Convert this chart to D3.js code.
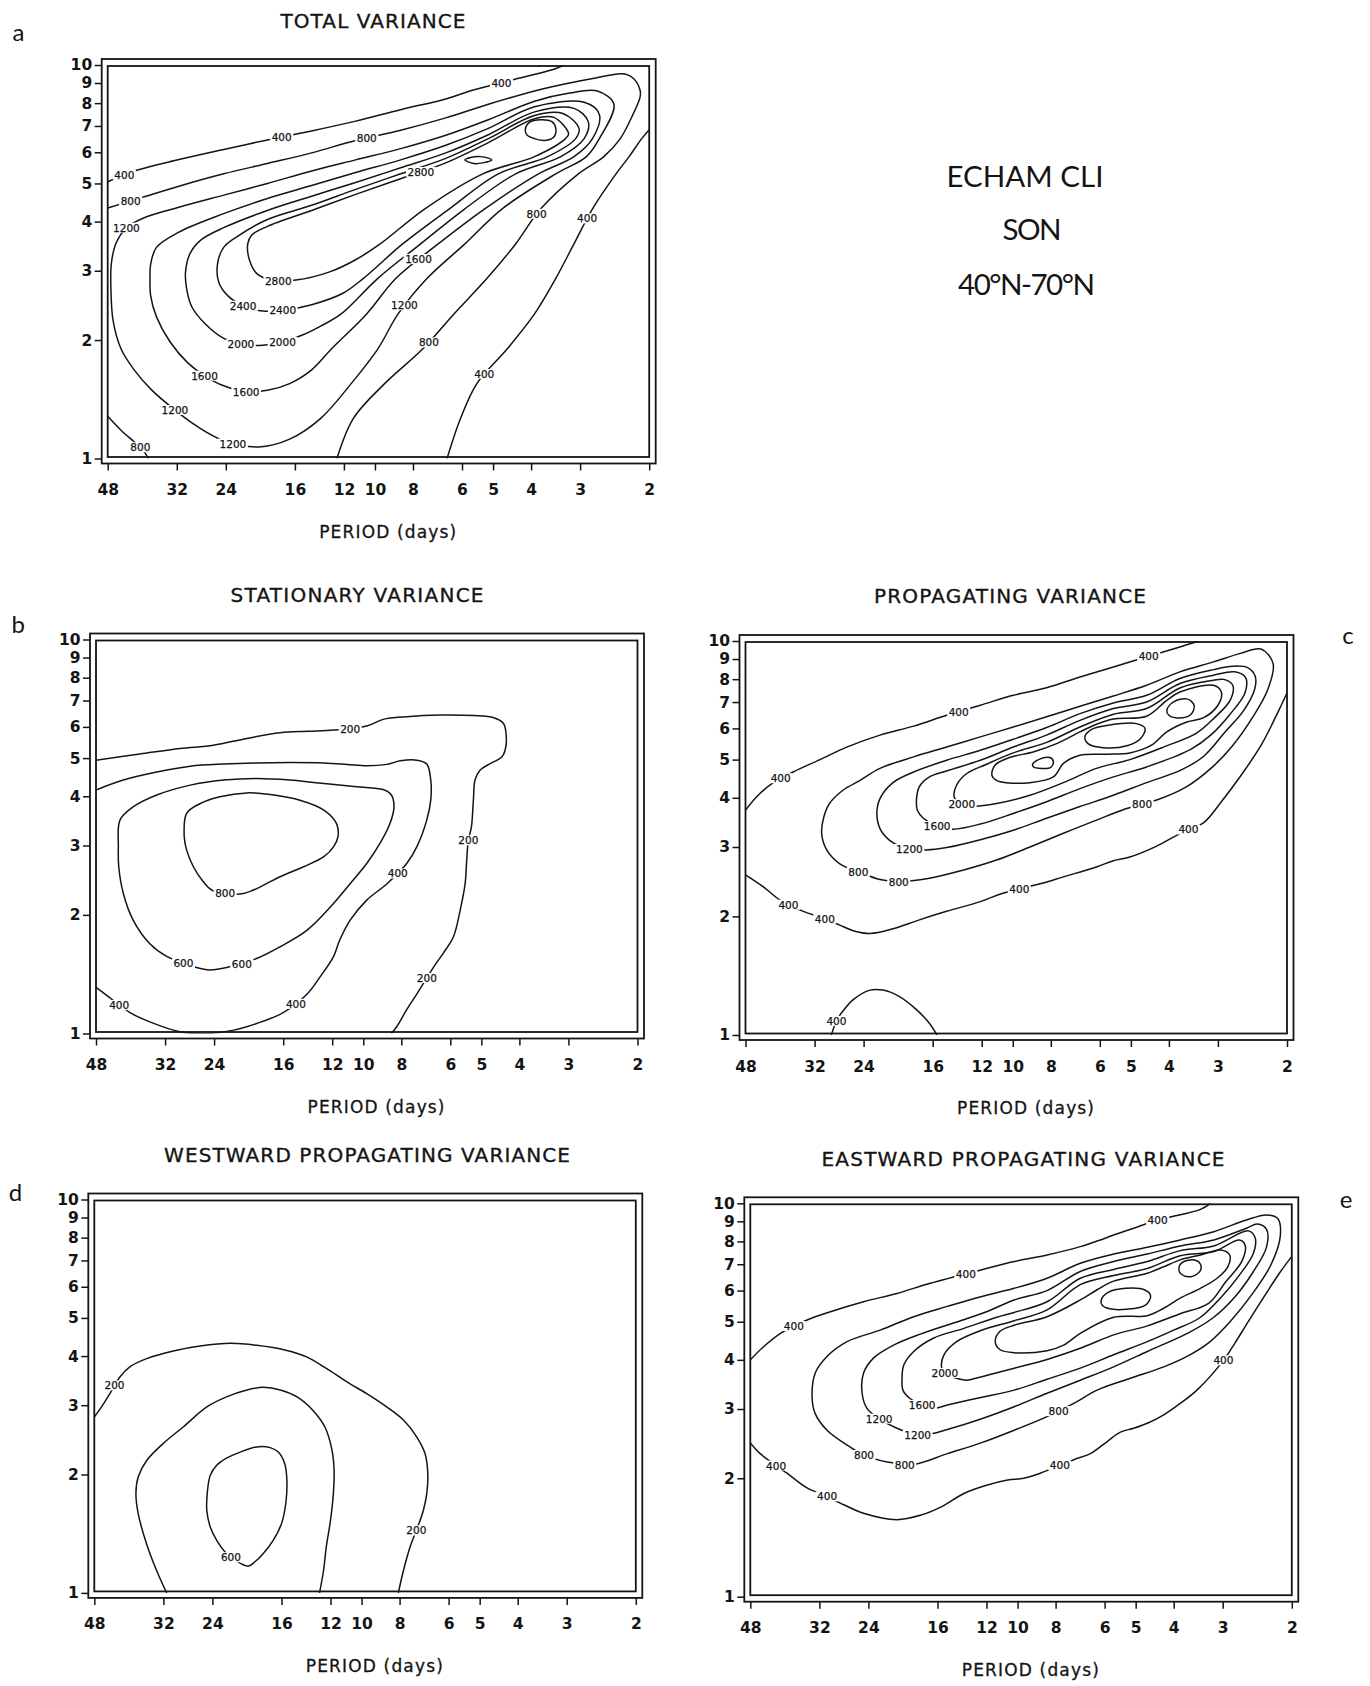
<!DOCTYPE html>
<html><head><meta charset="utf-8">
<script src="https://cdn.jsdelivr.net/npm/d3@7"></script>
<style>body{margin:0;background:#fff}svg{display:block}</style>
</head><body>
<svg id="fig" width="1370" height="1686"></svg>
<script>
// ---------- axis tick values ----------
const periodTicks = [48,32,24,16,12,10,8,6,5,4,3,2];
const waveTicks = [1,2,3,4,5,6,7,8,9,10];

// ---------- panel a : total variance  [period (days), wavenumber] ----------
const aC400u = [[48,5.05],[40.5,5.4],[31.6,5.75],[24.3,6.1],[18.8,6.45],[14.5,6.8],[11.2,7.2],[8.6,7.7],[6.6,8.2],[5.7,8.6],[4.4,9.2],[3.5,9.75],[3.3,10]];
const aC400r = [[6.55,1.0],[6.05,1.265],[5.5,1.55],[4.6,1.9],[3.92,2.33],[3.46,2.87],[3.11,3.51],[2.79,4.31],[2.43,5.29],[2.25,5.85],[2.09,6.5],[2.0,6.85]];
const aC800c = [[48,1.28],[44.4,1.18],[41,1.1],[39,1.05],[37.8,1.0]];
const aC800 = [[48,4.33],[41.1,4.54],[31.6,4.92],[24.3,5.29],[18.8,5.62],[14.5,5.98],[11.2,6.43],[8.6,6.83],[6.6,7.34],[5.14,7.95],[3.92,8.59],[3.19,9.0],[2.74,9.27],[2.34,9.5],[2.2,9.27],[2.11,8.63],[2.11,8.29],[2.2,7.49],[2.37,6.5],[2.61,5.85],[3.03,5.29],[3.78,4.31],[4.38,3.51],[5.18,2.87],[6.29,2.33],[7.55,1.9],[9.45,1.55],[11.35,1.265],[12.5,1.0]];
const aC1200 = [[43,3.86],[45.8,3.51],[47,3.12],[47.1,2.7],[46.5,2.24],[44.4,1.9],[41.1,1.68],[37,1.49],[32.4,1.33],[28.5,1.21],[24.3,1.11],[19.8,1.07],[16.5,1.12],[13.75,1.265],[11.5,1.55],[9.83,1.9],[8.73,2.33],[7.36,2.87],[5.9,3.51],[4.74,4.31],[3.46,5.29],[2.89,5.85],[2.68,6.5],[2.46,7.95],[2.71,8.59],[3.19,8.49],[3.92,8.09],[5.14,7.26],[6.6,6.63],[8.6,6.13],[11.2,5.74],[14.5,5.38],[18.8,5.0],[24.3,4.67],[31.6,4.35],[39,4.08]];
const aC1600 = [[37.45,2.87],[37.3,2.59],[36.05,2.29],[33.3,1.98],[30,1.75],[27.1,1.62],[24.3,1.53],[21.4,1.48],[18.8,1.49],[16.5,1.55],[14.5,1.68],[12.9,1.9],[10.5,2.33],[8.84,2.87],[6.9,3.51],[5.25,4.31],[3.83,5.29],[3.11,5.85],[2.79,6.5],[2.68,7.49],[2.93,8.04],[3.92,7.83],[5.14,6.9],[6.6,6.25],[8.6,5.74],[11.2,5.33],[14.5,4.94],[18.8,4.58],[24.3,4.19],[31.6,3.76],[36.05,3.44],[37.3,3.12]];
const aC2000 = [[30.4,2.98],[30.2,2.7],[29.3,2.43],[27.1,2.2],[24.3,2.02],[21.9,1.95],[19.3,1.94],[17.2,1.98],[15.3,2.06],[13.75,2.17],[12.2,2.33],[9.83,2.87],[7.65,3.51],[5.9,4.31],[4.38,5.29],[3.36,5.85],[2.93,6.5],[2.86,7.18],[3.11,7.76],[3.92,7.6],[5.14,6.65],[6.6,5.98],[8.6,5.48],[11.2,5.03],[14.5,4.64],[18.8,4.27],[24.3,3.86],[27.8,3.59],[29.6,3.32]];
const aC2400 = [[25.2,3.12],[25,2.8],[23.7,2.59],[21.6,2.44],[19.3,2.37],[17.2,2.38],[14.5,2.46],[12.07,2.63],[10.7,2.87],[8.5,3.51],[6.46,4.31],[4.85,5.29],[3.63,5.85],[3.08,6.5],[3.02,6.9],[3.32,7.53],[3.92,7.44],[5.14,6.5],[6.6,5.79],[8.6,5.29],[11.2,4.83],[14.5,4.4],[18.8,4.05],[22.5,3.66],[24.3,3.44]];
const aC2800 = [[21.1,3.51],[20.9,3.2],[20.0,2.95],[18.3,2.84],[15.9,2.84],[13.05,2.98],[11.2,3.2],[9.7,3.51],[7.46,4.31],[5.31,5.29],[3.92,5.85],[3.27,6.5],[3.21,6.69],[3.5,7.36],[3.92,7.3],[5.14,6.35],[6.6,5.64],[8.6,5.14],[11.2,4.69],[14.5,4.27],[18.8,3.89],[20.6,3.7]];
const aC3200a = [[5.9,5.74],[5.67,5.83],[5.38,5.85],[5.14,5.8],[5.04,5.74],[5.31,5.64],[5.6,5.62]];
const aC3200b = [[4.14,6.83],[4.04,7.15],[3.78,7.26],[3.54,7.18],[3.46,6.9],[3.5,6.56],[3.69,6.43],[3.92,6.5],[4.09,6.63]];
const aLabels = [["400","aC400u",43.8,5.3],["400","aC400u",17.2,6.5],["400","aC400u",4.74,9.0],
 ["800","aC800",42.1,4.58],["800","aC800",10.5,6.5],["800","aC800",3.87,4.2],["800","aC800",7.2,1.96],
 ["1200","aC1200",43,3.86],["1200","aC1200",8.5,2.46],["1200","aC1200",32.4,1.32],["1200","aC1200",23.1,1.09],
 ["1600","aC1600",7.85,3.25],["1600","aC1600",27.1,1.63],["1600","aC1600",21.4,1.47],
 ["2000","aC2000",21.9,1.95],["2000","aC2000",17.2,2.0],["2400","aC2400",21.6,2.44],["2400","aC2400",17.2,2.38],
 ["2800","aC2800",7.65,5.38],["2800","aC2800",17.6,2.8],["400","aC400r",2.89,4.08],["400","aC400r",5.2,1.63],["800","aC800c",40,1.06]];

// ---------- panel b : stationary variance ----------
const bC200 = [[48,4.94],[37.1,5.12],[29.3,5.29],[24.1,5.39],[19.8,5.61],[16.3,5.8],[13.9,5.85],[11.9,5.89],[9.8,6.03],[8.9,6.27],[7.75,6.37],[6.37,6.43],[5.24,6.41],[4.65,6.33],[4.39,6.12],[4.32,5.66],[4.34,5.29],[4.43,5.04],[4.75,4.84],[5.04,4.66],[5.19,4.4],[5.24,3.91],[5.3,3.35],[5.4,3.08],[5.45,2.75],[5.5,2.4],[5.66,2.06],[5.89,1.76],[6.25,1.6],[6.6,1.48],[7.3,1.26],[7.75,1.15],[8.22,1.04],[8.48,1.0]];
const bC400 = [[48,4.15],[40.9,4.4],[33.6,4.61],[27.6,4.77],[22.7,4.83],[18.7,4.86],[15.4,4.87],[12.6,4.86],[11.0,4.82],[9.8,4.78],[8.7,4.82],[8.05,4.92],[7.3,4.94],[6.89,4.83],[6.73,4.4],[6.73,3.91],[6.89,3.48],[7.3,2.98],[7.75,2.7],[8.7,2.4],[9.8,2.18],[10.8,1.94],[11.5,1.72],[11.9,1.57],[12.9,1.39],[13.9,1.26],[16.0,1.13],[18.7,1.06],[21.4,1.02],[25.1,1.0],[29.3,1.01],[35.0,1.07],[39.3,1.13],[45.1,1.25],[48,1.31]];
const bC600 = [[42.1,2.98],[41.7,3.48],[38.6,3.76],[33.6,4.03],[27.6,4.27],[22.7,4.4],[18.7,4.44],[15.4,4.4],[12.6,4.31],[10.4,4.23],[8.9,4.16],[8.48,4.03],[8.35,3.76],[8.55,3.41],[9.06,3.04],[9.8,2.7],[10.8,2.4],[12.1,2.1],[13.9,1.83],[16.3,1.66],[18.7,1.55],[22.3,1.47],[24.6,1.45],[26.6,1.47],[31.7,1.57],[35.0,1.69],[38.6,1.94],[40.9,2.27],[42.0,2.65]];
const bC800 = [[28.6,3.16],[28.2,3.62],[26.1,3.83],[23.2,3.99],[19.8,4.08],[16.9,4.03],[14.5,3.91],[12.6,3.69],[11.7,3.41],[11.6,3.16],[11.9,2.98],[12.6,2.81],[14.2,2.65],[16.3,2.5],[19.1,2.31],[20.6,2.26],[24.3,2.31],[25.6,2.43],[27.1,2.65],[28.2,2.92]];
const bLabels = [["200","bC200",10.8,5.9],["200","bC200",5.4,3.08],["200","bC200",6.89,1.39],["400","bC400",8.2,2.55],["400","bC400",14.9,1.2],["400","bC400",42.1,1.18],["600","bC600",28.7,1.5],["600","bC600",20.4,1.49],["800","bC800",22.5,2.25]];

// ---------- panel c : propagating variance ----------
const cC400u = [[48,3.72],[45,4.02],[40.8,4.37],[36.3,4.65],[31.0,5.0],[26.5,5.38],[21.8,5.77],[17.9,6.08],[14.75,6.48],[12.1,6.87],[9.97,7.28],[8.2,7.61],[6.74,8.1],[5.54,8.59],[4.56,9.11],[3.75,9.66],[3.35,10]];
const cC400l = [[48,2.55],[43.3,2.38],[39.2,2.2],[34.2,2.06],[30.4,1.98],[27.6,1.9],[25.5,1.84],[23.1,1.81],[20.2,1.86],[17.3,1.96],[14.75,2.06],[12.1,2.18],[10.6,2.29],[8.52,2.42],[7.43,2.52],[6.12,2.67],[5.54,2.77],[5.03,2.83],[4.38,2.99],[3.96,3.15],[3.6,3.31],[3.26,3.46],[2.94,3.91],[2.64,4.51],[2.33,5.43],[2.1,6.66],[2.0,7.38]];
const cC400b = [[29,1.0],[28.1,1.09],[27.1,1.15],[25.5,1.23],[23.1,1.3],[21.4,1.3],[19.4,1.25],[17.6,1.16],[16.3,1.07],[15.6,1.0]];
const cC800 = [[30.7,3.25],[30.3,3.58],[29.3,3.87],[27.1,4.18],[24.5,4.43],[21.8,4.75],[17.9,5.08],[14.75,5.38],[12.1,5.71],[9.97,6.05],[8.2,6.42],[6.74,6.83],[5.54,7.25],[4.56,7.72],[3.75,8.35],[3.08,8.85],[2.64,9.29],[2.33,9.54],[2.17,8.76],[2.24,7.52],[2.45,6.39],[2.75,5.43],[3.09,4.8],[3.63,4.25],[4.26,3.96],[4.7,3.85],[5.23,3.73],[6.12,3.51],[7.43,3.25],[9.04,3.0],[11.0,2.78],[13.4,2.62],[16.3,2.5],[19.6,2.45],[21.8,2.48],[24.8,2.6],[27.6,2.72],[29.8,2.95]];
const cC1200 = [[22.2,3.65],[21.8,3.98],[20.2,4.37],[17.9,4.65],[14.75,4.98],[12.1,5.28],[9.97,5.63],[8.2,6.03],[6.74,6.54],[5.54,6.96],[4.56,7.28],[3.75,8.03],[3.08,8.46],[2.75,8.63],[2.52,8.56],[2.41,8.14],[2.42,7.52],[2.58,6.66],[2.87,5.89],[3.26,5.1],[3.73,4.7],[4.56,4.37],[5.54,4.06],[6.74,3.8],[8.2,3.55],[9.97,3.31],[12.1,3.13],[14.75,2.99],[16.6,2.95],[18.7,2.98],[20.6,3.12],[21.8,3.34]];
const cC1600 = [[17.6,3.94],[17.3,4.27],[16.3,4.52],[14.75,4.68],[12.1,4.98],[9.97,5.38],[8.2,5.77],[6.74,6.29],[5.54,6.74],[4.56,7.0],[3.75,7.8],[3.08,8.19],[2.72,8.35],[2.55,8.07],[2.56,7.38],[2.79,6.53],[3.13,5.77],[3.52,5.31],[4.56,4.79],[5.54,4.52],[6.74,4.22],[8.2,3.91],[9.97,3.65],[12.1,3.43],[14.2,3.33],[15.6,3.39],[16.9,3.55],[17.5,3.72]];
const cC2000 = [[14.1,4.02],[13.9,4.31],[13.1,4.61],[11.7,4.86],[9.97,5.2],[8.2,5.53],[6.74,6.05],[5.54,6.52],[4.56,6.74],[3.75,7.6],[3.08,7.95],[2.9,7.99],[2.75,7.72],[2.79,7.08],[3.06,6.39],[3.4,5.84],[4.13,5.38],[5.03,5.0],[6.12,4.75],[7.43,4.37],[9.04,4.06],[11.0,3.87],[12.6,3.81],[13.6,3.87]];
const cC2400 = [[11.3,4.56],[11.1,4.84],[10.2,5.06],[8.87,5.23],[7.73,5.49],[6.74,5.88],[6.12,6.15],[5.54,6.34],[4.56,6.44],[4.05,7.07],[3.75,7.42],[3.08,7.72],[2.94,7.42],[3.0,6.87],[3.26,6.39],[3.6,6.23],[4.05,5.88],[4.43,5.44],[5.03,5.2],[5.77,5.16],[6.74,5.13],[7.43,4.89],[7.88,4.52],[9.04,4.37],[10.4,4.37],[11.0,4.43]];
const cC2800a = [[8.9,4.87],[8.6,5.0],[8.04,5.06],[7.88,4.94],[8.0,4.78],[8.44,4.75],[8.85,4.79]];
const cC2800b = [[6.55,5.71],[6.31,5.96],[5.66,6.12],[4.84,6.17],[4.6,6.0],[4.72,5.66],[5.12,5.42],[5.88,5.36],[6.43,5.49]];
const cC2800c = [[4.05,6.67],[3.9,7.0],[3.6,7.13],[3.45,6.87],[3.52,6.5],[3.81,6.38],[4.0,6.48]];
const cLabels = [["400","cC400u",38.9,4.47],["400","cC400u",13.7,6.57],["400","cC400u",4.5,9.2],["400","cC400l",37,2.16],["400","cC400l",30.1,1.98],["400","cC400l",9.6,2.35],["400","cC400l",3.56,3.31],["400","cC400b",28.1,1.09],["800","cC800",24.8,2.6],["800","cC800",19.6,2.45],["800","cC800",4.7,3.87],["1200","cC1200",18.3,2.96],["1600","cC1600",15.6,3.41],["2000","cC2000",13.5,3.87]];

// ---------- panel d : westward propagating variance ----------
const dC200 = [[48,2.8],[46,2.97],[43.8,3.21],[41.3,3.54],[38.9,3.76],[35.3,3.94],[30.2,4.12],[25.8,4.24],[21.6,4.31],[18.5,4.26],[15.6,4.14],[13.8,3.98],[12.3,3.72],[10.9,3.44],[9.7,3.21],[8.63,2.97],[7.82,2.75],[7.23,2.49],[6.89,2.26],[6.78,2.01],[6.82,1.79],[6.96,1.62],[7.16,1.49],[7.52,1.31],[7.82,1.14],[8.06,1.0]];
const dC400 = [[31.4,1.0],[33.3,1.14],[35.3,1.33],[37.1,1.59],[37.6,1.79],[37.1,1.97],[35.3,2.17],[32,2.4],[28.5,2.64],[24.8,2.97],[22.1,3.15],[19.6,3.28],[17.8,3.33],[16.1,3.28],[14.6,3.15],[13.3,2.91],[12.4,2.64],[11.9,2.31],[11.75,2.05],[11.8,1.79],[12,1.53],[12.3,1.31],[12.5,1.14],[12.8,1.0]];
const dC600 = [[24.7,1.82],[24.8,1.62],[24.3,1.47],[23.4,1.36],[22.1,1.26],[20.4,1.19],[19.4,1.17],[18.7,1.2],[17.8,1.26],[16.8,1.36],[16,1.5],[15.6,1.69],[15.5,1.93],[15.7,2.13],[16.3,2.28],[17.1,2.34],[18.5,2.35],[20.4,2.28],[22.1,2.2],[23.4,2.11],[24.3,1.99]];
const dLabels = [["200","dC200",42.5,3.37],["200","dC200",7.23,1.44],["600","dC600",21.4,1.25]];

// ---------- panel e : eastward propagating variance ----------
const eC400u = [[48,4.0],[44.4,4.32],[40.2,4.67],[34.4,5.05],[30,5.3],[24.7,5.62],[20.3,5.9],[16.7,6.26],[12.4,6.77],[10.2,7.11],[8.41,7.39],[6.92,7.76],[6.15,8.07],[5.69,8.31],[5.06,8.64],[4.4,9.07],[4.08,9.23],[3.42,9.65],[3.22,10]];
const eC400l = [[48,2.46],[45.3,2.31],[41.4,2.16],[38.7,2.06],[34.4,1.89],[30.6,1.8],[28.3,1.73],[24.7,1.63],[20.3,1.57],[17.7,1.61],[15.7,1.69],[13.7,1.83],[12,1.92],[10.6,1.98],[9.65,2.0],[8.75,2.06],[7.19,2.23],[6.52,2.31],[5.91,2.48],[5.47,2.62],[5.06,2.68],[4.67,2.76],[4.24,2.9],[3.85,3.1],[3.49,3.35],[2.98,4.0],[2.79,4.42],[2.58,5.01],[2.32,5.92],[2.14,6.69],[2.0,7.33]];
const eC800 = [[33.4,3.22],[32.8,3.7],[30.6,4.08],[27.2,4.45],[22.4,4.76],[18.4,5.15],[15.1,5.47],[12.4,5.79],[10.2,6.08],[8.41,6.45],[6.92,7.04],[5.69,7.43],[4.67,7.73],[3.85,8.07],[3.16,8.47],[2.61,9.07],[2.32,9.34],[2.17,9.14],[2.14,8.24],[2.26,6.98],[2.51,5.92],[2.87,5.01],[3.26,4.42],[3.72,4.07],[4.24,3.84],[5.16,3.59],[6.27,3.35],[7.19,3.1],[8.41,2.87],[10.2,2.65],[12.4,2.46],[15.1,2.31],[18.4,2.17],[21.5,2.2],[24.6,2.29],[27.2,2.43],[30.6,2.65],[32.8,2.92]];
const eC1200 = [[24.9,3.29],[24.7,3.7],[23.3,4.04],[20.7,4.36],[17.7,4.65],[14.5,4.97],[12,5.3],[10.2,5.68],[8.41,6.0],[6.92,6.71],[5.69,7.11],[4.67,7.43],[3.85,7.79],[3.16,8.07],[2.61,8.64],[2.45,8.86],[2.32,8.59],[2.32,7.74],[2.51,6.69],[2.79,5.79],[3.18,5.11],[3.62,4.72],[4.67,4.2],[5.69,3.84],[6.92,3.55],[8.41,3.29],[10.2,3.04],[12.4,2.83],[15.1,2.66],[16.7,2.59],[17.9,2.58],[20.3,2.68],[22.6,2.84],[24.2,3.01]];
const eC1600 = [[19.7,3.59],[19.5,3.88],[18.4,4.2],[16.4,4.54],[13.7,4.81],[11.3,5.13],[10.2,5.28],[8.41,5.62],[6.92,6.45],[5.69,6.79],[4.67,7.11],[3.85,7.58],[3.16,7.79],[2.58,8.51],[2.48,8.17],[2.51,7.43],[2.72,6.57],[3.02,5.79],[3.44,5.11],[4.0,4.76],[4.67,4.45],[5.69,4.12],[6.92,3.81],[8.41,3.57],[10.2,3.35],[12.4,3.21],[15.1,3.07],[16.4,3.01],[17.5,3.07],[18.8,3.19],[19.6,3.35]];
const eC2000 = [[15.6,3.81],[15.4,4.12],[14.3,4.45],[12.4,4.75],[10.2,5.03],[8.41,5.36],[6.92,6.21],[5.69,6.55],[4.67,6.83],[3.85,7.36],[3.16,7.54],[2.72,8.07],[2.63,7.82],[2.68,7.13],[2.95,6.31],[3.26,5.57],[3.85,5.24],[4.67,4.88],[5.69,4.63],[6.92,4.28],[8.41,4.01],[10.2,3.81],[12.4,3.62],[13.5,3.55],[14.3,3.59],[15.1,3.66]];
const eC2400 = [[11.4,4.45],[11.1,4.72],[10.2,4.9],[8.41,5.15],[6.92,5.68],[6.27,6.03],[5.69,6.34],[4.67,6.64],[4.24,6.9],[3.85,7.18],[3.42,7.39],[3.04,7.61],[2.88,7.39],[2.91,6.9],[3.1,6.45],[3.42,6.08],[3.85,5.74],[4.24,5.41],[4.67,5.18],[5.69,5.13],[6.92,4.67],[7.63,4.36],[8.41,4.22],[10.2,4.17],[11.1,4.25]];
const eC2800a = [[6.12,5.68],[5.89,5.93],[5.31,6.08],[4.75,6.03],[4.58,5.82],[4.72,5.51],[5.26,5.38],[5.86,5.4],[6.09,5.51]];
const eC2800b = [[3.88,6.83],[3.81,7.07],[3.54,7.18],[3.42,7.01],[3.43,6.71],[3.62,6.51],[3.83,6.61]];
const eLabels = [["400","eC400u",37.2,4.86],["400","eC400u",13.5,6.58],["400","eC400u",4.4,9.07],["400","eC400l",41.4,2.16],["400","eC400l",30.6,1.8],["400","eC400l",7.78,2.16],["400","eC400l",2.98,4.0],["800","eC800",24.6,2.29],["800","eC800",19.4,2.16],["800","eC800",7.78,2.92],["1200","eC1200",22.6,2.84],["1200","eC1200",17.9,2.58],["1600","eC1600",17.5,3.07],["2000","eC2000",15.4,3.7]];

// ---------- layout ----------
const svg = d3.select("#fig");
const W = 541.5;
const INK = "#141414";
const SANS = "'DejaVu Sans', sans-serif";
const panels = [
 {key:"a", title:"TOTAL VARIANCE", left:107.7, top:65, h:393.5, tx:373, ty:21, tw:185, letter:"a", lx:18.5, ly:31,
  contours:[["aC400u",aC400u,0],["aC400r",aC400r,0],["aC800c",aC800c,0],["aC800",aC800,0],["aC1200",aC1200,1],["aC1600",aC1600,1],["aC2000",aC2000,1],["aC2400",aC2400,1],["aC2800",aC2800,1],["aC3200a",aC3200a,1],["aC3200b",aC3200b,1]], labels:aLabels},
 {key:"b", title:"STATIONARY VARIANCE", left:96, top:639.5, h:394, tx:357, ty:594.5, tw:253, letter:"b", lx:18.2, ly:623,
  contours:[["bC200",bC200,0],["bC400",bC400,0],["bC600",bC600,1],["bC800",bC800,1]], labels:bLabels},
 {key:"c", title:"PROPAGATING VARIANCE", left:745.5, top:641, h:394, tx:1010, ty:596, tw:272, letter:"c", lx:1348, ly:634,
  contours:[["cC400u",cC400u,0],["cC400l",cC400l,0],["cC400b",cC400b,0],["cC800",cC800,1],["cC1200",cC1200,1],["cC1600",cC1600,1],["cC2000",cC2000,1],["cC2400",cC2400,1],["cC2800a",cC2800a,1],["cC2800b",cC2800b,1],["cC2800c",cC2800c,1]], labels:cLabels},
 {key:"d", title:"WESTWARD PROPAGATING VARIANCE", left:94.3, top:1199.5, h:393.4, tx:367, ty:1155, tw:406, letter:"d", lx:15.5, ly:1191,
  contours:[["dC200",dC200,0],["dC400",dC400,0],["dC600",dC600,1]], labels:dLabels},
 {key:"e", title:"EASTWARD PROPAGATING VARIANCE", left:750.3, top:1203.3, h:393.4, tx:1023, ty:1158.5, tw:403, letter:"e", lx:1346, ly:1198,
  contours:[["eC400u",eC400u,0],["eC400l",eC400l,0],["eC800",eC800,1],["eC1200",eC1200,1],["eC1600",eC1600,1],["eC2000",eC2000,1],["eC2400",eC2400,1],["eC2800a",eC2800a,1],["eC2800b",eC2800b,1]], labels:eLabels}
];

const defs = svg.append("defs");

function drawPanel(p){
  const x = d3.scaleLog().domain([48,2]).range([p.left, p.left+W]);
  const y = d3.scaleLog().domain([1,10]).range([p.top+p.h, p.top]);
  const g = svg.append("g");
  const clipId = "clip-"+p.key;
  defs.append("clipPath").attr("id",clipId).append("rect")
    .attr("x",x(48)).attr("y",y(10)).attr("width",W).attr("height",p.h);

  const oL = x(48)-6, oT = y(10)-6, oR = x(2)+6.5, oB = y(1)+5;
  g.append("rect").attr("x",oL).attr("y",oT).attr("width",oR-oL).attr("height",oB-oT)
    .attr("fill","none").attr("stroke",INK).attr("stroke-width",1.8);
  g.append("rect").attr("x",x(48)).attr("y",y(10)+1).attr("width",W).attr("height",p.h-2.5)
    .attr("fill","none").attr("stroke",INK).attr("stroke-width",1.8);

  // y axis
  const ya = d3.axisLeft(y).tickValues(waveTicks).tickFormat(d3.format("d")).tickSize(7).tickPadding(2.5);
  const yg = g.append("g").attr("transform",`translate(${oL},0)`).call(ya);
  yg.select(".domain").remove();
  // x axis
  const xa = d3.axisBottom(x).tickValues(periodTicks).tickFormat(d3.format("d")).tickSize(7).tickPadding(13.5);
  const xg = g.append("g").attr("transform",`translate(0,${oB})`).call(xa);
  xg.select(".domain").remove();
  [yg,xg].forEach(ax=>{
    ax.attr("font-family",SANS).attr("font-size",15.5).attr("font-weight","bold");
    ax.selectAll(".tick line").attr("stroke",INK).attr("stroke-width",1.5);
    ax.selectAll(".tick text").attr("fill",INK);
  });

  // contours
  const cg = g.append("g").attr("clip-path",`url(#${clipId})`);
  const paths = {};
  p.contours.forEach(([name,pts,closed])=>{
    const line = d3.line().x(d=>x(d[0])).y(d=>y(d[1]))
      .curve(closed ? d3.curveCatmullRomClosed.alpha(0.5) : d3.curveCatmullRom.alpha(0.5));
    paths[name] = cg.append("path").attr("d",line(pts)).attr("fill","none")
      .attr("stroke",INK).attr("stroke-width",1.5).attr("stroke-linejoin","round");
  });

  // contour labels, snapped onto their line
  const lg = g.append("g");
  p.labels.forEach(([txt,name,P,k])=>{
    const node = paths[name].node();
    const L = node.getTotalLength();
    const tx = x(P), ty = y(k);
    let best = node.getPointAtLength(0), bd = Infinity;
    for(let s=0;s<=L;s+=1.5){
      const pt = node.getPointAtLength(s);
      const d = (pt.x-tx)*(pt.x-tx)+(pt.y-ty)*(pt.y-ty);
      if(d<bd){bd=d;best=pt;}
    }
    const one = lg.append("g");
    const r = one.append("rect").attr("fill","#fff");
    const t = one.append("text").attr("x",best.x).attr("y",best.y)
      .attr("text-anchor","middle").attr("dominant-baseline","central")
      .attr("font-family",SANS).attr("font-size",10.5).attr("fill",INK)
      .attr("stroke",INK).attr("stroke-width",0.25).text(txt);
    const bb = t.node().getBBox();
    r.attr("x",bb.x-1.5).attr("y",bb.y+1).attr("width",bb.width+3).attr("height",bb.height-2);
  });

  // title
  svg.append("text").attr("x",p.tx).attr("y",p.ty).attr("text-anchor","middle").attr("dominant-baseline","central")
    .attr("font-family",SANS).attr("font-size",20).attr("fill",INK).attr("stroke",INK).attr("stroke-width",0.35)
    .attr("textLength",p.tw).attr("lengthAdjust","spacing").text(p.title);
  // x axis title
  svg.append("text").attr("x",p.left+280).attr("y",oB+68).attr("text-anchor","middle").attr("dominant-baseline","central")
    .attr("font-family",SANS).attr("font-size",17).attr("fill",INK).attr("stroke",INK).attr("stroke-width",0.3)
    .attr("textLength",137).attr("lengthAdjust","spacing").text("PERIOD (days)");
  // panel letter
  svg.append("text").attr("x",p.lx).attr("y",p.ly).attr("text-anchor","middle").attr("dominant-baseline","central")
    .attr("font-family","Lato, 'Open Sans', sans-serif").attr("font-size",24).attr("fill",INK).text(p.letter);
}
panels.forEach(drawPanel);

// experiment caption
const cap = [["ECHAM CLI",1025,186.7,157],["SON",1032,240,59],["40°N-70°N",1026.5,295,137]];
cap.forEach(([t,cx,by,w])=>{
  svg.append("text").attr("x",cx).attr("y",by).attr("text-anchor","middle")
    .attr("font-family","Lato, 'Open Sans', sans-serif").attr("font-size",29.5).attr("fill",INK)
    .attr("textLength",w).attr("lengthAdjust","spacing").text(t);
});
</script>
</body></html>
